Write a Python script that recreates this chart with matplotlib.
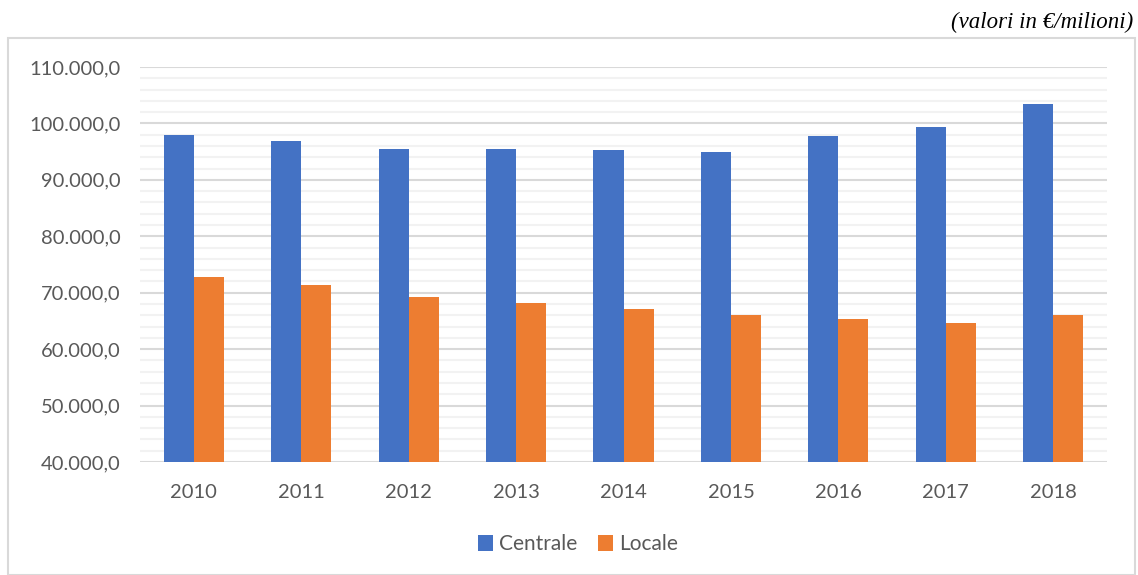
import matplotlib
matplotlib.use("Agg")
import matplotlib.pyplot as plt
from matplotlib.patches import Rectangle
from matplotlib.ticker import MultipleLocator, FuncFormatter
import numpy as np

years = ["2010", "2011", "2012", "2013", "2014", "2015", "2016", "2017", "2018"]
centrale = [97930, 96870, 95530, 95530, 95350, 94930, 97760, 99300, 103410]
locale = [72830, 71290, 69290, 68160, 67100, 66040, 65340, 64700, 66040]

W, H = 1138, 575
fig = plt.figure(figsize=(W / 100, H / 100), dpi=100)
fig.patch.set_facecolor("white")

# outer chart border
fig.patches.append(Rectangle((8 / W, 0), (1135 - 8) / W, (575 - 38) / H,
                             transform=fig.transFigure, fill=False,
                             edgecolor="#d9d9d9", linewidth=1.5))

ax = fig.add_axes([140 / W, (H - 462) / H, (1107 - 140) / W, (462 - 67) / H])
x = np.arange(len(years))
bw = 0.28
ax.bar(x - bw / 2, centrale, bw, color="#4472c4", label="Centrale", zorder=3)
ax.bar(x + bw / 2, locale, bw, color="#ed7d31", label="Locale", zorder=3)

ax.set_xlim(-0.5, len(years) - 0.5)
ax.set_ylim(40000, 110000)
ax.yaxis.set_major_locator(MultipleLocator(10000))
ax.yaxis.set_minor_locator(MultipleLocator(2000))
ax.grid(which="major", axis="y", color="#d9d9d9", linewidth=1.5, zorder=1)
ax.grid(which="minor", axis="y", color="#f2f2f2", linewidth=1.5, zorder=0)
for s in ax.spines.values():
    s.set_visible(False)

def fmt(v, pos):
    s = f"{v:,.1f}"
    return s.replace(",", "X").replace(".", ",").replace("X", ".")

ax.yaxis.set_major_formatter(FuncFormatter(fmt))
ax.set_xticks(x)
ax.set_xticklabels(years)
ax.tick_params(axis="both", which="both", length=0, labelsize=14.5, labelcolor="#595959")
ax.tick_params(axis="y", pad=14)
ax.tick_params(axis="x", pad=16)
for lab in ax.get_xticklabels() + ax.get_yticklabels():
    lab.set_fontfamily("Lato")

leg = fig.legend(loc="center", bbox_to_anchor=(578 / W, (H - 544) / H), ncol=2,
                 frameon=False, prop={"family": "Lato", "size": 15},
                 handlelength=0.7, handleheight=0.8, handletextpad=0.3, columnspacing=1.0)
for t in leg.get_texts():
    t.set_color("#595959")

fig.text(1133 / W, (H - 22) / H, "(valori in €/milioni)", ha="right", va="center",
         fontsize=16.5, style="italic", family="Liberation Serif", color="black")

fig.savefig("out.png", dpi=100)
